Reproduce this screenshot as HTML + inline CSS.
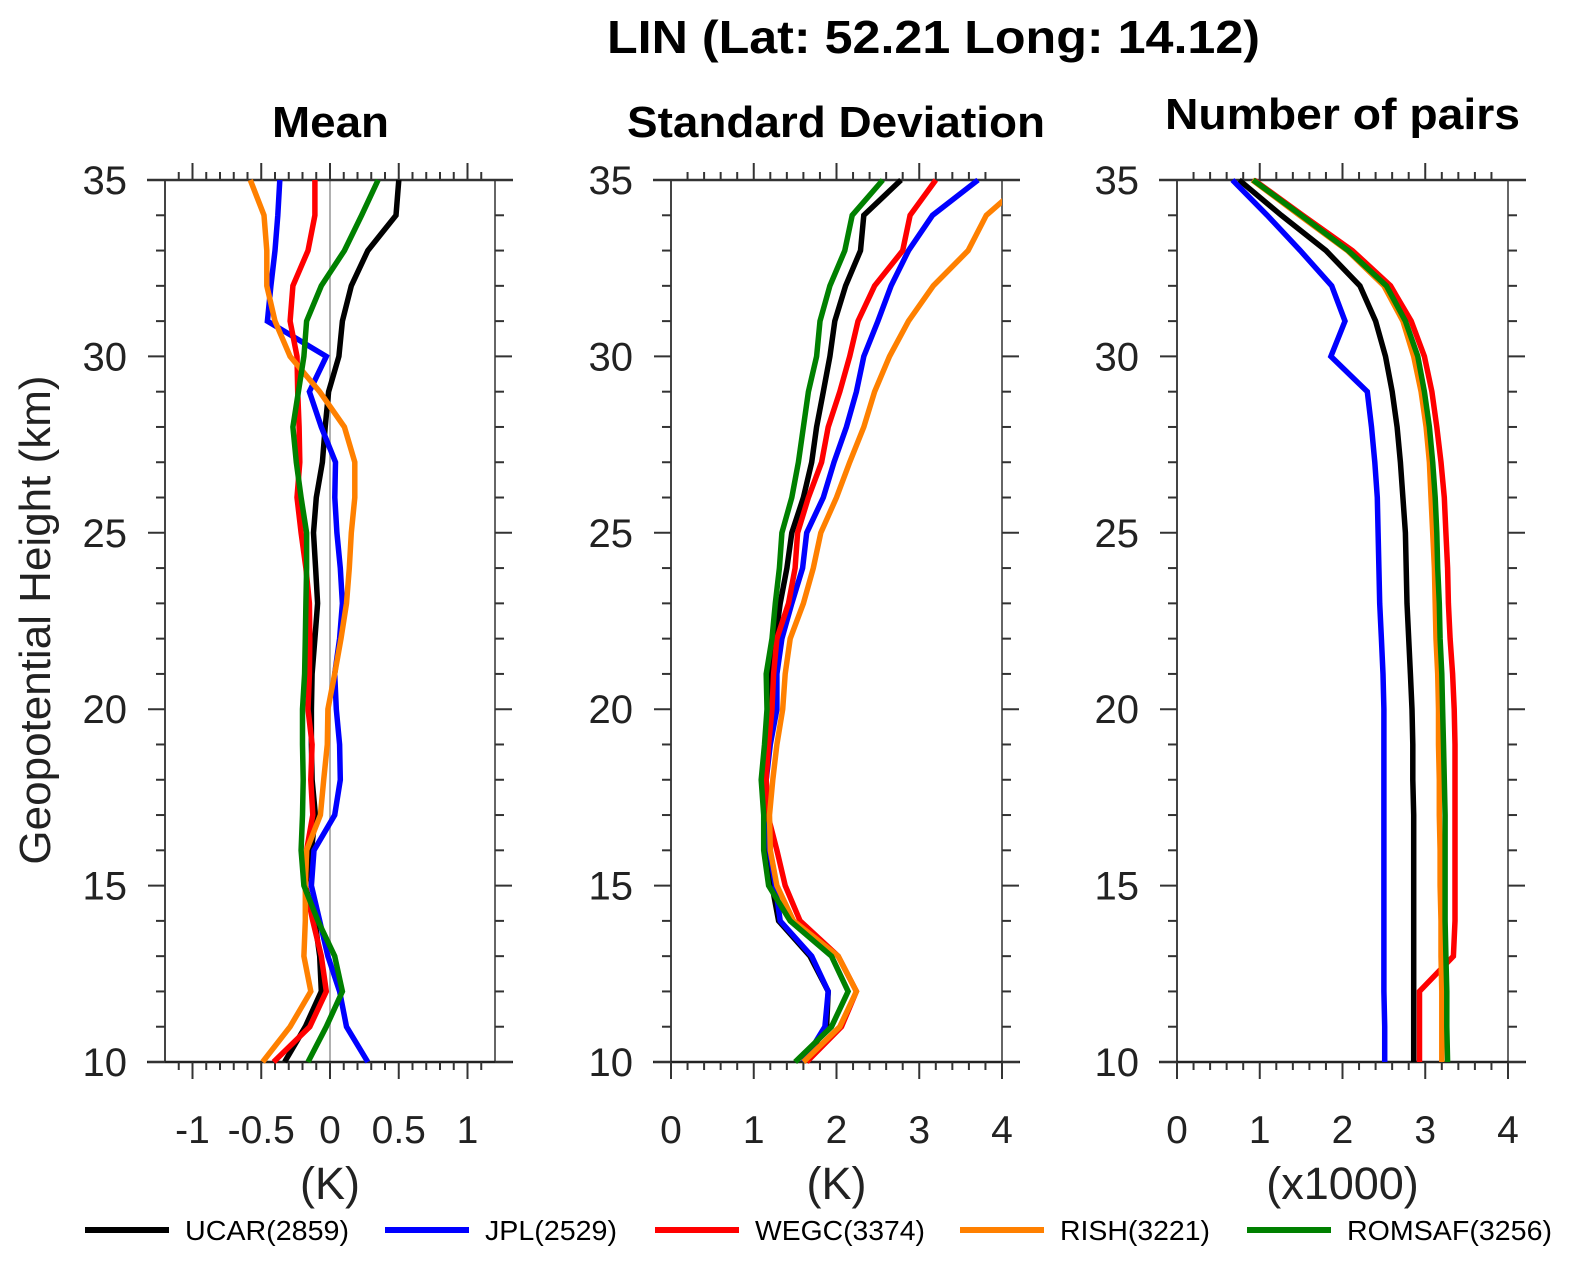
<!DOCTYPE html>
<html><head><meta charset="utf-8"><style>
html,body{margin:0;padding:0;background:#fff;}
svg{display:block;font-family:"Liberation Sans",sans-serif;}
</style></head><body>
<svg id="chart" width="1569" height="1261" viewBox="0 0 1569 1261" xmlns="http://www.w3.org/2000/svg">
<text x="607" y="53" font-size="46" font-weight="bold" fill="#000" textLength="653" lengthAdjust="spacingAndGlyphs">LIN (Lat: 52.21 Long: 14.12)</text>
<text x="272" y="137" font-size="44" font-weight="bold" textLength="117" lengthAdjust="spacingAndGlyphs">Mean</text>
<text x="627" y="137" font-size="44" font-weight="bold" textLength="418" lengthAdjust="spacingAndGlyphs">Standard Deviation</text>
<text x="1165" y="129" font-size="44" font-weight="bold" textLength="355" lengthAdjust="spacingAndGlyphs">Number of pairs</text>
<text transform="translate(50,620) rotate(-90)" font-size="44" text-anchor="middle" fill="#222">Geopotential Height (km)</text>
<g id="panels"></g>
<g id="legend"></g>
</svg>
<script>
const heights=[35,34,33,32,31,30,29,28,27,26,25,24,23,22,21,20,19,18,17,16,15,14,13,12,11,10];
const seriesNames=["UCAR(2859)","JPL(2529)","WEGC(3374)","RISH(3221)","ROMSAF(3256)"];
const seriesColors=["#000000","#0000ff","#ff0000","#ff8000","#008000"];
const meanUCAR=[0.50,0.48,0.275,0.155,0.09,0.065,-0.01,-0.035,-0.055,-0.10,-0.12,-0.105,-0.09,-0.11,-0.13,-0.135,-0.135,-0.13,-0.106,-0.135,-0.18,-0.11,-0.075,-0.063,-0.18,-0.33];
const meanJPL=[-0.365,-0.38,-0.40,-0.43,-0.455,-0.027,-0.15,-0.063,0.04,0.035,0.05,0.075,0.09,0.07,0.034,0.046,0.07,0.075,0.034,-0.116,-0.135,-0.075,-0.015,0.07,0.12,0.275];
const meanWEGC=[-0.11,-0.11,-0.16,-0.27,-0.29,-0.24,-0.235,-0.225,-0.22,-0.24,-0.21,-0.175,-0.15,-0.147,-0.15,-0.16,-0.13,-0.14,-0.125,-0.17,-0.18,-0.125,-0.063,-0.027,-0.147,-0.41];
const meanRISH=[-0.58,-0.48,-0.46,-0.46,-0.40,-0.29,-0.075,0.105,0.18,0.18,0.155,0.14,0.12,0.08,0.034,-0.015,-0.02,-0.046,-0.07,-0.17,-0.18,-0.18,-0.19,-0.14,-0.29,-0.49];
const meanROMSAF=[0.35,0.23,0.105,-0.063,-0.17,-0.19,-0.23,-0.27,-0.245,-0.21,-0.17,-0.17,-0.175,-0.18,-0.185,-0.20,-0.20,-0.195,-0.20,-0.21,-0.19,-0.087,0.034,0.09,-0.027,-0.16];
const stdUCAR=[2.78,2.33,2.29,2.11,1.98,1.92,1.84,1.76,1.70,1.60,1.46,1.40,1.32,1.26,1.20,1.20,1.18,1.13,1.13,1.15,1.22,1.30,1.68,1.90,1.88,1.60];
const stdJPL=[3.71,3.16,2.87,2.66,2.50,2.33,2.24,2.12,1.97,1.84,1.64,1.59,1.46,1.34,1.28,1.28,1.20,1.15,1.16,1.19,1.26,1.32,1.70,1.90,1.86,1.60];
const stdWEGC=[3.20,2.89,2.80,2.46,2.26,2.16,2.04,1.90,1.82,1.66,1.53,1.50,1.42,1.28,1.24,1.22,1.18,1.15,1.17,1.28,1.38,1.56,2.02,2.24,2.06,1.64];
const stdRISH=[4.30,3.81,3.59,3.17,2.87,2.64,2.46,2.33,2.16,2.00,1.81,1.72,1.60,1.44,1.38,1.35,1.28,1.23,1.19,1.20,1.28,1.48,2.02,2.24,2.04,1.60];
const stdROMSAF=[2.56,2.19,2.10,1.92,1.80,1.76,1.66,1.60,1.54,1.46,1.34,1.31,1.26,1.22,1.15,1.16,1.13,1.09,1.12,1.12,1.18,1.44,1.94,2.14,1.94,1.50];
const pairsUCAR=[0.75,1.26,1.80,2.21,2.40,2.52,2.60,2.66,2.70,2.73,2.76,2.77,2.78,2.80,2.82,2.84,2.85,2.85,2.86,2.86,2.86,2.86,2.86,2.86,2.86,2.86];
const pairsJPL=[0.67,1.09,1.49,1.87,2.03,1.86,2.30,2.35,2.39,2.42,2.43,2.44,2.45,2.47,2.49,2.50,2.50,2.50,2.50,2.50,2.50,2.50,2.50,2.50,2.51,2.51];
const pairsWEGC=[0.93,1.52,2.12,2.58,2.83,2.99,3.08,3.14,3.19,3.23,3.25,3.27,3.28,3.30,3.33,3.35,3.36,3.36,3.36,3.36,3.36,3.36,3.34,2.93,2.93,2.93];
const pairsRISH=[0.91,1.48,2.06,2.50,2.73,2.86,2.95,3.01,3.05,3.07,3.09,3.11,3.12,3.13,3.15,3.16,3.16,3.17,3.17,3.18,3.18,3.19,3.19,3.20,3.20,3.20];
const pairsROMSAF=[0.92,1.50,2.07,2.53,2.76,2.91,2.99,3.05,3.09,3.12,3.14,3.15,3.17,3.18,3.20,3.21,3.22,3.23,3.24,3.24,3.24,3.24,3.25,3.26,3.26,3.27];
const yTickLabels=["10","15","20","25","30","35"];
const meanTickLabels=["-1","-0.5","0","0.5","1"];
const stdTickLabels=["0","1","2","3","4"];
const pairsTickLabels=["0","1","2","3","4"];

const NS="http://www.w3.org/2000/svg";
const Y0=1062, Y1=180;
function yScale(h){return Y0-(h-10)/(35-10)*(Y0-Y1);}
function mk(tag,attrs,parent){const e=document.createElementNS(NS,tag);for(const k in attrs)e.setAttribute(k,attrs[k]);parent.appendChild(e);return e;}
const panelsG=document.getElementById('panels');

const panels=[
 {name:'mean',x0:165,x1:495,min:-1.2,max:1.2,minor:0.1,major:0.5,labels:meanTickLabels,unit:'(K)',series:[meanUCAR,meanJPL,meanWEGC,meanRISH,meanROMSAF],zero:true},
 {name:'std',x0:671,x1:1002,min:0,max:4,minor:0.2,major:1,labels:stdTickLabels,unit:'(K)',series:[stdUCAR,stdJPL,stdWEGC,stdRISH,stdROMSAF],zero:false},
 {name:'pairs',x0:1177,x1:1508,min:0,max:4,minor:0.2,major:1,labels:pairsTickLabels,unit:'(x1000)',series:[pairsUCAR,pairsJPL,pairsWEGC,pairsRISH,pairsROMSAF],zero:false}
];

panels.forEach((p,pi)=>{
  const g=mk('g',{},panelsG);
  
  
  const xs=v=>p.x0+(v-p.min)/(p.max-p.min)*(p.x1-p.x0);
  const cid='clip'+pi;
  const cp=mk('clipPath',{id:cid},g);
  mk('rect',{x:p.x0,y:Y1-3,width:p.x1-p.x0,height:Y0-Y1+6},cp);
  const l=mk('line',{x1:p.x0,y1:Y1,x2:p.x0,y2:Y0,stroke:'#444','stroke-width':2},g);
  
  
  const r=mk('line',{x1:p.x1,y1:Y1,x2:p.x1,y2:Y0,stroke:'#666','stroke-width':2},g);
  
  
  if(p.zero){
    const z=mk('line',{x1:xs(0),y1:Y1,x2:xs(0),y2:Y0,stroke:'#b0b0b0','stroke-width':2},g);
    
    
  }
  const tline=mk('line',{x1:p.x0-18,y1:Y1,x2:p.x1+18,y2:Y1,stroke:'#333','stroke-width':2.5},g);
  
  
  const bline=mk('line',{x1:p.x0-18,y1:Y0,x2:p.x1+18,y2:Y0,stroke:'#222','stroke-width':2.5},g);
  
  
  for(let h=10;h<=35;h++){
    const y=yScale(h), len=(h%5===0)?17:9;
    mk('line',{x1:p.x0-len,y1:y,x2:p.x0,y2:y,stroke:'#333','stroke-width':2},g);
    mk('line',{x1:p.x1,y1:y,x2:p.x1+len,y2:y,stroke:'#333','stroke-width':2},g);
  }
  yTickLabels.forEach((lab,i)=>{
    const t=mk('text',{x:p.x0-38,y:yScale(10+5*i)+14,'font-size':40,'text-anchor':'end',fill:'#222'},g);
    t.textContent=lab;
    
    
  });
  const n=Math.round((p.max-p.min)/p.minor);
  for(let i=1;i<n;i++){
    const v=p.min+i*p.minor;
    const isMaj=Math.abs(v/p.major-Math.round(v/p.major))<1e-6;
    const len=isMaj?17:8, x=xs(v);
    mk('line',{x1:x,y1:Y0,x2:x,y2:Y0+len,stroke:'#333','stroke-width':2},g);
    mk('line',{x1:x,y1:Y1,x2:x,y2:Y1-len,stroke:'#333','stroke-width':2},g);
  }
  if(p.min===0){
    mk('line',{x1:p.x0,y1:Y0,x2:p.x0,y2:Y0+17,stroke:'#333','stroke-width':2},g);
    mk('line',{x1:p.x1,y1:Y0,x2:p.x1,y2:Y0+17,stroke:'#333','stroke-width':2},g);
  }
  p.labels.forEach(lab=>{
    const t=mk('text',{x:xs(parseFloat(lab)),y:1143,'font-size':39,'text-anchor':'middle',fill:'#222'},g);
    t.textContent=lab;
    
    
  });
  const u=mk('text',{x:(p.x0+p.x1)/2,y:1199,'font-size':45,'text-anchor':'middle',fill:'#222'},g);
  u.textContent=p.unit;
  
  
  const sg=mk('g',{'clip-path':'url(#'+cid+')'},g);
  p.series.forEach((vals,si)=>{
    const pts=vals.map((v,i)=>xs(v).toFixed(1)+','+yScale(heights[i]).toFixed(1)).join(' ');
    const pl=mk('polyline',{points:pts,fill:'none',stroke:seriesColors[si],'stroke-width':5.5,'stroke-linejoin':'miter'},sg);
    
    
  });
});

const legG=document.getElementById('legend');
const legLineX=[85,385,655,960,1247];
const legTextW=[164,132,170,150,205];
legLineX.forEach((x,i)=>{
  const ln=mk('line',{x1:x,y1:1230,x2:x+84,y2:1230,stroke:seriesColors[i],'stroke-width':6},legG);
  
  
  const t=mk('text',{x:x+100,y:1240,'font-size':28,fill:'#000',textLength:legTextW[i],lengthAdjust:'spacingAndGlyphs'},legG);
  t.textContent=seriesNames[i];
  
  
});
</script>
</body></html>
